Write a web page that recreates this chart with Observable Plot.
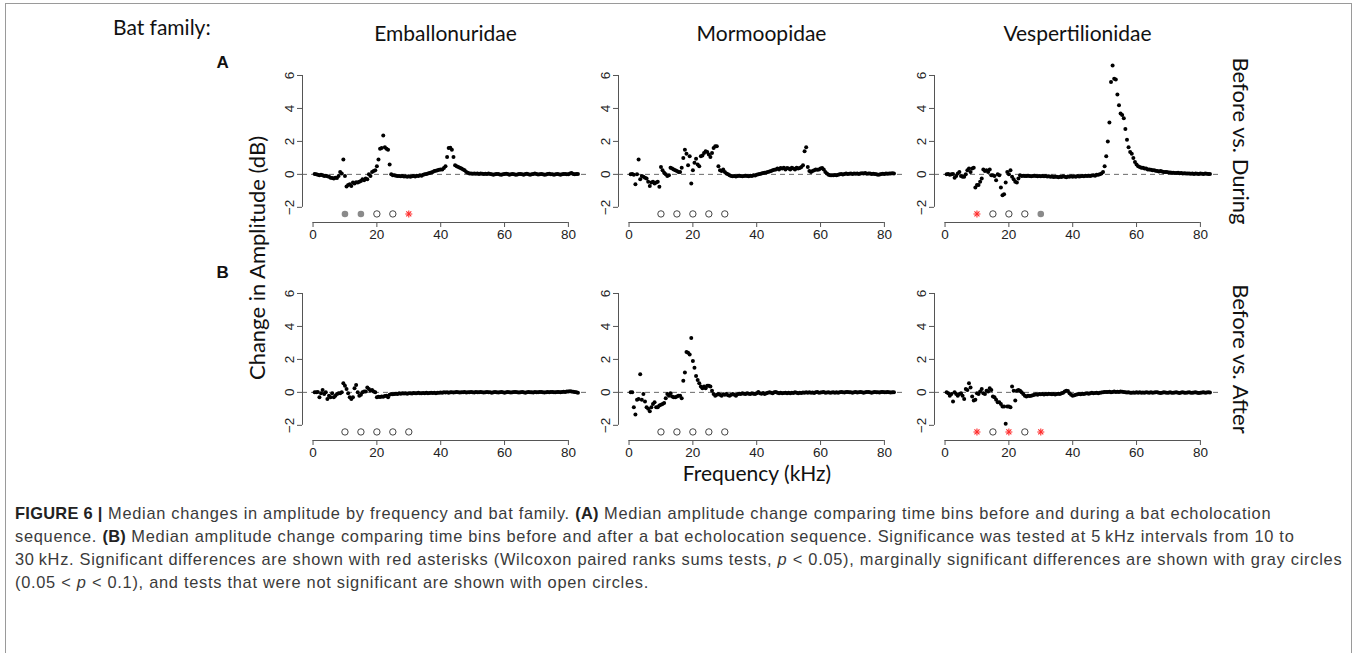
<!DOCTYPE html>
<html>
<head>
<meta charset="utf-8">
<script src="https://cdn.jsdelivr.net/npm/d3@7"></script>
<script src="https://cdn.jsdelivr.net/npm/@observablehq/plot@0.6"></script>
<style>
  html, body { margin: 0; padding: 0; background: #fff; }
  #wrap { position: relative; width: 1357px; height: 653px; overflow: hidden; }
  #border { position: absolute; left: 5px; top: 3px; width: 1347px; height: 660px; border: 1.5px solid #9a9a9a; box-sizing: border-box; }
  .hdr { position: absolute; font-family: Lato, "Open Sans", sans-serif; font-size: 21px; color: #111; white-space: nowrap; }
  #caption { position: absolute; left: 15px; top: 502px; font-family: "Liberation Sans", Arial, sans-serif; font-size: 16.4px; letter-spacing: 0.72px; line-height: 23px; color: #3a3a3a; white-space: nowrap; }
  #caption b { color: #222; letter-spacing: 0.3px; }
</style>
</head>
<body>
<div id="wrap">
  <div id="border"></div>
  <div id="chart" style="position:absolute;left:0;top:0;"></div>
  <div class="hdr" id="batfam" style="left:113px;top:14px;">Bat family:</div>
  <div class="hdr" id="ytitle" style="left:256px;top:258px;transform:translate(-50%,-50%) rotate(-90deg);font-size:22px;">Change in Amplitude (dB)</div>
  <div class="hdr" id="xtitle" style="left:757px;top:472px;transform:translate(-50%,-50%);">Frequency (kHz)</div>
  <div id="caption">
    <b>FIGURE 6 |</b> Median changes in amplitude by frequency and bat family. <b>(A)</b> Median amplitude change comparing time bins before and during a bat echolocation<br>
    sequence. <b>(B)</b> Median amplitude change comparing time bins before and after a bat echolocation sequence. Significance was tested at 5&#8201;kHz intervals from 10 to<br>
    30&#8201;kHz. Significant differences are shown with red asterisks (Wilcoxon paired ranks sums tests, <i>p</i> &lt; 0.05), marginally significant differences are shown with gray circles<br>
    (0.05 &lt; <i>p</i> &lt; 0.1), and tests that were not significant are shown with open circles.
  </div>
</div>
<script>
// ---------------- data ----------------
const families = ["Emballonuridae", "Mormoopidae", "Vespertilionidae"];
const comparisons = ["Before vs. During", "Before vs. After"];
const panelLetters = ["A", "B"];
const xTicks = [0, 20, 40, 60, 80];
const yTicks = [-2, 0, 2, 4, 6];

// frequency bins (kHz), 0.5 kHz apart
const freqs = d3.range(1, 167).map(i => i * 0.5);

// median amplitude change (dB), one value per frequency bin
const embDuring = [
  0.02, 0.0, -0.02, -0.05, -0.03, -0.06, -0.1, -0.08, -0.12, -0.15,
  -0.2, -0.22, -0.25, -0.2, -0.22, -0.1, 0.15, 0.05, 0.9, -0.1,
  -0.73, -0.65, -0.6, -0.7, -0.5, -0.55, -0.48, -0.5, -0.45, -0.4,
  -0.3, -0.35, -0.25, -0.3, 0.0, -0.1, 0.15, 0.2, 0.25, 0.5,
  0.9, 1.55, 1.6, 2.36, 1.65, 1.55, 1.5, 0.6, 0.0, -0.05,
  -0.05, -0.08, -0.1, -0.1, -0.12, -0.1, -0.13, -0.12, -0.15, -0.12,
  -0.14, -0.12, -0.1, -0.13, -0.08, -0.1, -0.05, -0.08, -0.02, 0.0,
  0.03, 0.05, 0.08, 0.12, 0.15, 0.2, 0.22, 0.25, 0.28, 0.3,
  0.3, 0.38, 0.5, 1.05, 1.6, 1.62, 1.5, 1.05, 0.55, 0.5,
  0.45, 0.4, 0.35, 0.3, 0.25, 0.15, 0.1, 0.05, 0.05, 0.04,
  0.05, 0.04, 0.05, 0.03, 0.05, 0.04, 0.02, 0.04, 0.03, 0.05,
  0.02, 0.0, -0.02, 0.01, 0.03, 0.02, -0.01, -0.03, 0.0, 0.02,
  0.04, 0.02, -0.02, 0.0, 0.03, 0.01, -0.03, -0.01, 0.02, 0.03,
  0.0, -0.02, 0.02, 0.04, 0.01, -0.02, 0.0, 0.03, 0.05, 0.02,
  -0.01, 0.0, 0.03, 0.01, -0.03, -0.01, 0.02, 0.04, 0.01, 0.0,
  -0.02, 0.01, 0.03, 0.0, -0.02, 0.0, 0.03, 0.02, 0.0, 0.01,
  0.05, 0.08, 0.03, 0.0, 0.02, 0.03
];
const morDuring = [
  0.0, 0.02, -0.02, -0.6, 0.0, 0.9, -0.3, -0.1, -0.15, -0.2,
  -0.25, -0.45, -0.7, -0.5, -0.45, -0.55, -0.5, -0.45, -0.75, 0.45,
  0.25, 0.1, 0.0, -0.1, -0.05, 0.4, 0.35, 0.3, 0.25, 0.2,
  0.15, 0.15, 0.4, 1.0, 1.5, 1.25, 0.55, 1.1, -0.55, 0.25,
  0.7, 0.95, 0.6, 0.5, 1.1, 1.15, 1.3, 1.4, 1.35, 1.2,
  1.05, 1.3, 1.6, 1.7, 1.7, 0.5, 0.25, 0.2, 0.3, 0.15,
  0.05, 0.0, -0.05, -0.1, -0.12, -0.1, -0.13, -0.1, -0.08, -0.1,
  -0.12, -0.1, -0.08, -0.1, -0.12, -0.08, -0.1, -0.05, -0.07, -0.03,
  0.0, 0.03, 0.05, 0.08, 0.1, 0.12, 0.15, 0.18, 0.2, 0.25,
  0.28, 0.3, 0.35, 0.3, 0.38, 0.35, 0.4, 0.3, 0.38, 0.35,
  0.3, 0.4, 0.35, 0.3, 0.4, 0.35, 0.38, 0.45, 0.55, 1.4,
  1.65, 0.45, 0.2, 0.15, 0.2, 0.25, 0.3, 0.28, 0.3, 0.35,
  0.38, 0.3, 0.15, 0.05, -0.03, -0.05, -0.05, -0.06, -0.04, -0.05,
  -0.03, 0.0, 0.02, -0.01, 0.03, 0.05, 0.02, 0.04, 0.06, 0.03,
  0.05, 0.04, 0.06, 0.03, 0.05, 0.07, 0.05, 0.08, 0.04, 0.06,
  0.05, 0.03, 0.04, 0.02, 0.0, -0.02, -0.01, 0.02, 0.04, 0.03,
  0.05, 0.04, 0.06, 0.05, 0.07, 0.06
];
const vesDuring = [
  0.0, 0.02, -0.02, 0.0, 0.03, -0.2, -0.1, 0.05, 0.15, -0.1,
  -0.15, -0.15, 0.0, 0.25, 0.35, 0.15, 0.35, 0.4, -0.8, -0.65,
  -0.65, -0.45, -0.25, 0.3, 0.2, 0.25, 0.15, 0.3, -0.05, -0.05,
  -0.1, -0.35, 0.0, -0.05, -0.8, -1.27, -1.2, -0.5, 0.15, 0.0,
  0.25, -0.15, -0.3, -0.45, -0.5, -0.25, -0.05, -0.1, -0.08, -0.1,
  -0.1, -0.08, -0.1, -0.12, -0.1, -0.08, -0.1, -0.12, -0.1, -0.11,
  -0.1, -0.12, -0.1, -0.13, -0.12, -0.15, -0.13, -0.16, -0.14, -0.15,
  -0.17, -0.14, -0.16, -0.12, -0.15, -0.18, -0.13, -0.15, -0.12, -0.14,
  -0.12, -0.15, -0.1, -0.13, -0.11, -0.1, -0.12, -0.09, -0.1, -0.08,
  -0.1, -0.07, -0.05, -0.08, -0.03, -0.02, 0.0, 0.05, 0.15, 0.5,
  1.1, 2.0, 3.15, 5.6, 6.6, 5.8, 5.75, 4.85, 4.2, 3.7,
  3.6, 3.4, 2.75, 2.1, 1.65, 1.35, 1.25, 1.0, 0.75, 0.6,
  0.5, 0.45, 0.4, 0.4, 0.35, 0.35, 0.3, 0.3, 0.28, 0.25,
  0.25, 0.22, 0.2, 0.18, 0.2, 0.17, 0.15, 0.14, 0.15, 0.12,
  0.12, 0.1, 0.1, 0.09, 0.08, 0.1, 0.07, 0.08, 0.06, 0.07,
  0.06, 0.05, 0.06, 0.04, 0.05, 0.03, 0.05, 0.04, 0.03, 0.05,
  0.04, 0.03, 0.05, 0.04, 0.02, 0.03
];
const embAfter = [
  0.0, 0.0, 0.02, -0.3, -0.05, 0.15, -0.1, 0.0, -0.4, -0.2,
  -0.3, -0.05, -0.3, -0.2, -0.1, -0.05, -0.05, 0.0, 0.55, 0.4,
  0.2, -0.05, -0.3, -0.4, -0.3, 0.25, 0.45, 0.0, -0.2, -0.15,
  0.0, 0.05, 0.05, 0.3, 0.2, 0.1, 0.15, 0.05, 0.0, -0.3,
  -0.27, -0.28, -0.25, -0.27, -0.22, -0.2, -0.3, -0.15, -0.1, -0.12,
  -0.1, -0.08, -0.1, -0.06, -0.08, -0.05, -0.07, -0.05, -0.08, -0.06,
  -0.05, -0.07, -0.04, -0.06, -0.05, -0.03, -0.05, -0.06, -0.04, -0.05,
  -0.03, -0.05, -0.04, -0.02, -0.04, -0.03, -0.05, -0.02, -0.03, -0.01,
  -0.02, 0.0, -0.01, 0.01, -0.02, 0.0, 0.01, -0.01, 0.0, 0.02,
  0.0, -0.01, 0.01, 0.0, 0.02, -0.01, 0.0, 0.01, 0.03, 0.0,
  -0.01, 0.02, 0.0, 0.01, 0.03, 0.01, -0.01, 0.0, 0.02, 0.01,
  0.0, -0.02, 0.01, 0.02, 0.0, -0.01, 0.01, 0.03, 0.0, -0.02,
  0.0, 0.02, 0.01, -0.01, 0.0, 0.02, 0.03, 0.0, -0.01, 0.01,
  0.02, 0.0, -0.02, 0.01, 0.03, 0.01, 0.0, -0.01, 0.02, 0.01,
  0.0, 0.02, 0.03, 0.01, -0.01, 0.0, 0.02, 0.01, 0.03, 0.02,
  0.0, 0.01, 0.03, 0.02, 0.0, 0.02, 0.04, 0.03, 0.05, 0.06,
  0.07, 0.05, 0.04, 0.02, 0.0, -0.02
];
const morAfter = [
  0.0, 0.0, -0.9, -1.35, -0.45, -0.4, 1.1, -0.45, -0.1, -0.55,
  -0.9, -1.0, -1.15, -0.9, -0.7, -0.6, -0.9, -0.9, -0.8, -0.75,
  -0.7, -0.65, -0.35, -0.1, -0.2, -0.05, -0.25, -0.3, -0.3, -0.25,
  -0.2, -0.2, -0.35, 0.7, 1.2, 2.45, 2.4, 2.3, 3.3, 1.9,
  1.5, 1.0, 0.75, 0.55, 0.35, 0.25, 0.35, 0.25, 0.4, 0.4,
  0.35, 0.1, -0.1, -0.2, -0.15, -0.1, -0.15, -0.2, -0.12, -0.15,
  -0.1, -0.18, -0.2, -0.15, -0.1, -0.15, -0.2, -0.12, -0.08, -0.1,
  -0.05, -0.08, -0.1, -0.05, -0.08, -0.1, -0.06, -0.08, -0.1, -0.05,
  0.02, -0.05, -0.08, -0.04, -0.1, -0.06, -0.03, 0.0, -0.02, -0.05,
  0.0, 0.02, -0.02, -0.05, -0.03, -0.06, -0.04, -0.02, -0.05, -0.03,
  -0.05, -0.02, -0.04, 0.0, -0.03, -0.05, -0.02, -0.04, -0.01, -0.03,
  0.0, -0.02, 0.01, -0.03, -0.01, -0.04, 0.0, 0.02, -0.02, -0.01,
  0.01, 0.03, -0.02, -0.01, 0.0, -0.03, -0.01, 0.01, -0.02, 0.0,
  -0.02, 0.01, 0.02, 0.0, -0.01, 0.02, 0.03, 0.0, 0.01, -0.02,
  0.0, 0.02, -0.01, 0.01, 0.03, 0.0, -0.02, 0.01, 0.03, 0.02,
  0.0, -0.02, 0.01, 0.02, 0.0, 0.01, -0.01, 0.02, 0.03, 0.01,
  0.0, 0.02, 0.01, -0.01, 0.0, 0.01
];
const vesAfter = [
  0.0, -0.05, -0.2, -0.1, -0.55, 0.0, -0.1, -0.2, -0.1, -0.05,
  -0.2, -0.4, 0.2, 0.15, 0.55, 0.3, -0.25, -0.5, -0.45, -0.05,
  -0.1, 0.05, 0.2, -0.05, -0.1, 0.1, 0.05, 0.25, 0.15, -0.25,
  -0.3, -0.45, -0.6, -0.6, -0.7, -0.85, -0.85, -1.9, -0.85, -0.85,
  -0.9, 0.35, 0.1, -0.5, 0.1, 0.15, 0.1, 0.0, -0.1, -0.2,
  -0.25, -0.2, -0.22, -0.2, -0.18, -0.15, -0.12, -0.15, -0.1, -0.12,
  -0.1, -0.13, -0.1, -0.12, -0.08, -0.1, -0.12, -0.1, -0.13, -0.1,
  -0.08, -0.1, -0.05, -0.02, 0.05, 0.1, 0.08, -0.05, -0.15, -0.2,
  -0.18, -0.15, -0.12, -0.1, -0.12, -0.08, -0.1, -0.07, -0.05, -0.08,
  -0.05, -0.03, -0.06, -0.04, -0.02, -0.05, -0.03, -0.01, 0.0, 0.02,
  0.03, 0.02, 0.04, 0.01, 0.03, 0.05, 0.02, 0.04, 0.03, 0.05,
  0.04, 0.03, 0.01, -0.01, 0.0, -0.02, -0.03, -0.01, -0.02, 0.0,
  -0.02, 0.0, -0.03, -0.01, -0.02, 0.01, -0.01, -0.03, 0.0, -0.02,
  -0.01, 0.01, 0.0, -0.02, -0.04, -0.02, 0.0, -0.01, -0.03, -0.02,
  0.0, -0.02, -0.03, -0.01, 0.0, -0.02, -0.04, -0.01, 0.0, -0.02,
  -0.03, -0.01, 0.0, -0.02, -0.03, -0.01, 0.0, -0.02, -0.04, -0.02,
  -0.01, 0.0, -0.02, -0.01, 0.0, -0.01
];

// significance tests at 5 kHz intervals
const testFreqs = [10, 15, 20, 25, 30];
const sigEmbDuring = ["marginal", "marginal", "ns", "ns", "sig"];
const sigMorDuring = ["ns", "ns", "ns", "ns", "ns"];
const sigVesDuring = ["sig", "ns", "ns", "ns", "marginal"];
const sigEmbAfter  = ["ns", "ns", "ns", "ns", "ns"];
const sigMorAfter  = ["ns", "ns", "ns", "ns", "ns"];
const sigVesAfter  = ["sig", "ns", "sig", "ns", "sig"];

// ---------------- tables ----------------
const series = [
  [families[0], comparisons[0], embDuring, sigEmbDuring],
  [families[1], comparisons[0], morDuring, sigMorDuring],
  [families[2], comparisons[0], vesDuring, sigVesDuring],
  [families[0], comparisons[1], embAfter, sigEmbAfter],
  [families[1], comparisons[1], morAfter, sigMorAfter],
  [families[2], comparisons[1], vesAfter, sigVesAfter]
];
const points = series.flatMap(([family, comparison, vals]) =>
  vals.map((value, i) => ({family, comparison, freq: freqs[i], value})));
const tests = series.flatMap(([family, comparison, , sig]) =>
  sig.map((result, i) => ({family, comparison, freq: testFreqs[i], result})));
const letters = comparisons.map((comparison, i) => ({family: families[0], comparison, letter: panelLetters[i]}));

// ---------------- chart ----------------
const xDomain = [-3.3, 86.3];
const yDomain = [-2.92, 6.97];
const testLevel = -2.4;   // row where test results are drawn
const axisColor = "#555";
const sans = "Liberation Sans, Arial, Helvetica, sans-serif";
const calib = "Lato, 'Open Sans', sans-serif";
const letterStyle = {fx: "family", fy: "comparison", text: "letter", frameAnchor: "top-left", dx: -86, fontWeight: "bold", fontSize: 17, fill: "#111", fontFamily: sans};

const chart = Plot.plot({
  width: 1357,
  height: 485,
  marginLeft: 301.5,
  marginRight: 137.5,
  marginTop: 59,
  marginBottom: 45,
  style: {fontFamily: sans, fontSize: "13.5px", color: "#222", background: "transparent", overflow: "visible"},
  fx: {domain: families, paddingInner: 30 / 316, paddingOuter: 0, label: null},
  fy: {domain: comparisons, paddingInner: 55 / 218, paddingOuter: 0, label: null},
  x: {domain: xDomain, label: null},
  y: {domain: yDomain, label: null},
  marks: [
    Plot.ruleY([0], {stroke: "#6a6a6a", strokeDasharray: "5,4", strokeWidth: 1}),
    Plot.ruleY([yDomain[0]], {x1: xTicks[0], x2: xTicks[xTicks.length - 1], stroke: axisColor}),
    Plot.ruleX([xDomain[0]], {y1: yTicks[0], y2: yTicks[yTicks.length - 1], stroke: axisColor}),
    Plot.axisX({ticks: xTicks, tickSize: 5, tickPadding: 2, facetAnchor: null, stroke: axisColor, fill: "#222", fontSize: 13.5, label: null}),
    Plot.axisY({ticks: yTicks, tickSize: 5, tickPadding: 4, tickRotate: -90, facetAnchor: null, stroke: axisColor, fill: "#222", fontSize: 13.5, label: null}),
    Plot.dot(points, {x: "freq", y: "value", fx: "family", fy: "comparison", r: 2, fill: "#000"}),
    Plot.dot(tests.filter(d => d.result === "ns"), {x: "freq", y: () => testLevel, fx: "family", fy: "comparison", r: 3.2, stroke: "#444", strokeWidth: 1, fill: "none"}),
    Plot.dot(tests.filter(d => d.result === "marginal"), {x: "freq", y: () => testLevel, fx: "family", fy: "comparison", r: 3.3, fill: "#8a8a8a"}),
    Plot.dot(tests.filter(d => d.result === "sig"), {x: "freq", y: () => testLevel, fx: "family", fy: "comparison", r: 2.4, symbol: "plus", stroke: "#ff2a2a", strokeWidth: 1.1, fill: "none"}),
    Plot.dot(tests.filter(d => d.result === "sig"), {x: "freq", y: () => testLevel, fx: "family", fy: "comparison", r: 2.4, symbol: "times", stroke: "#ff2a2a", strokeWidth: 1.1, fill: "none"}),
    Plot.text(letters.slice(0, 1), {...letterStyle, dy: -4}),
    Plot.text(letters.slice(1, 2), {...letterStyle, dy: -12}),
    Plot.axisFx({anchor: "top", tickSize: 0, tickPadding: 19, fontSize: 21, fontFamily: calib, fill: "#111", label: null}),
    Plot.axisFy({anchor: "right", tickSize: 0, tickPadding: 28, tickRotate: 90, fontSize: 22, fontFamily: calib, fill: "#111", label: null})
  ]
});
document.getElementById("chart").appendChild(chart);
</script>
</body>
</html>
